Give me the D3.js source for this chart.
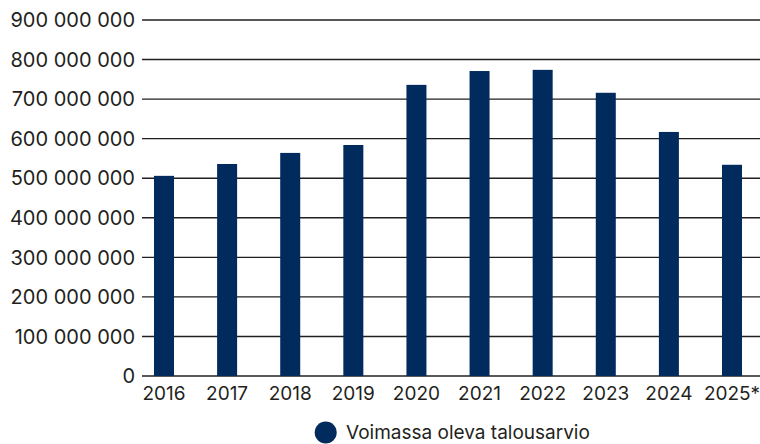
<!DOCTYPE html>
<html>
<head>
<meta charset="utf-8">
<script src="https://cdn.jsdelivr.net/npm/d3@7"></script>
<style>
  body { margin: 0; background: #fff; }
  text { font-family: Inter, "DejaVu Sans", sans-serif; fill: #231f20; }
</style>
</head>
<body>
<div id="chart"></div>
<script>
const years = ["2016", "2017", "2018", "2019", "2020", "2021", "2022", "2023", "2024", "2025*"];
const budget = [506e6, 536e6, 564e6, 584e6, 736e6, 771e6, 774e6, 716e6, 617e6, 534e6];
const yTicks = [0, 1e8, 2e8, 3e8, 4e8, 5e8, 6e8, 7e8, 8e8, 9e8];
const seriesName = "Voimassa oleva talousarvio";

const width = 760, height = 444;
let plot = {left: 142, right: 754, top: 20, bottom: 376};
const barColor = "#022b5d";

const svg = d3.select("#chart").append("svg")
  .attr("width", width)
  .attr("height", height);

let x = d3.scaleBand()
  .domain(years)
  .range([plot.left, plot.right])
  .paddingInner(0.683)
  .paddingOuter(0.19);

let y = d3.scaleLinear()
  .domain([0, 9e8])
  .range([plot.bottom, plot.top]);

const fmt = v => d3.format(",")(v).replace(/,/g, " ");

// gridlines
svg.append("g")
  .selectAll("line")
  .data(yTicks)
  .join("line")
  .attr("x1", plot.left)
  .attr("x2", width)
  .attr("y1", d => y(d))
  .attr("y2", d => y(d))
  .attr("stroke", "#231f20")
  .attr("stroke-width", 1.4);

// y labels
svg.append("g")
  .selectAll("text")
  .data(yTicks)
  .join("text")
  .attr("x", 135)
  .attr("y", d => y(d))
  .attr("dy", "0.36em")
  .attr("text-anchor", "end")
  .style("font-size", "20px")
  .text(d => fmt(d));

// bars
svg.append("g")
  .selectAll("rect")
  .data(years)
  .join("rect")
  .attr("x", d => x(d))
  .attr("width", x.bandwidth())
  .attr("y", (d, i) => y(budget[i]))
  .attr("height", (d, i) => y(0) - y(budget[i]))
  .attr("fill", barColor);

// x labels
svg.append("g")
  .selectAll("text")
  .data(years)
  .join("text")
  .attr("x", d => x(d) + x.bandwidth() / 2)
  .attr("y", 399.5)
  .attr("text-anchor", "middle")
  .style("font-size", "19px")
  .text(d => d);

// legend
const legend = svg.append("g");
legend.append("circle")
  .attr("cx", 325.7)
  .attr("cy", 432.5)
  .attr("r", 11)
  .attr("fill", barColor);
legend.append("text")
  .attr("x", 346)
  .attr("y", 439)
  .style("font-size", "19px")
  .text(seriesName);
</script>
</body>
</html>
